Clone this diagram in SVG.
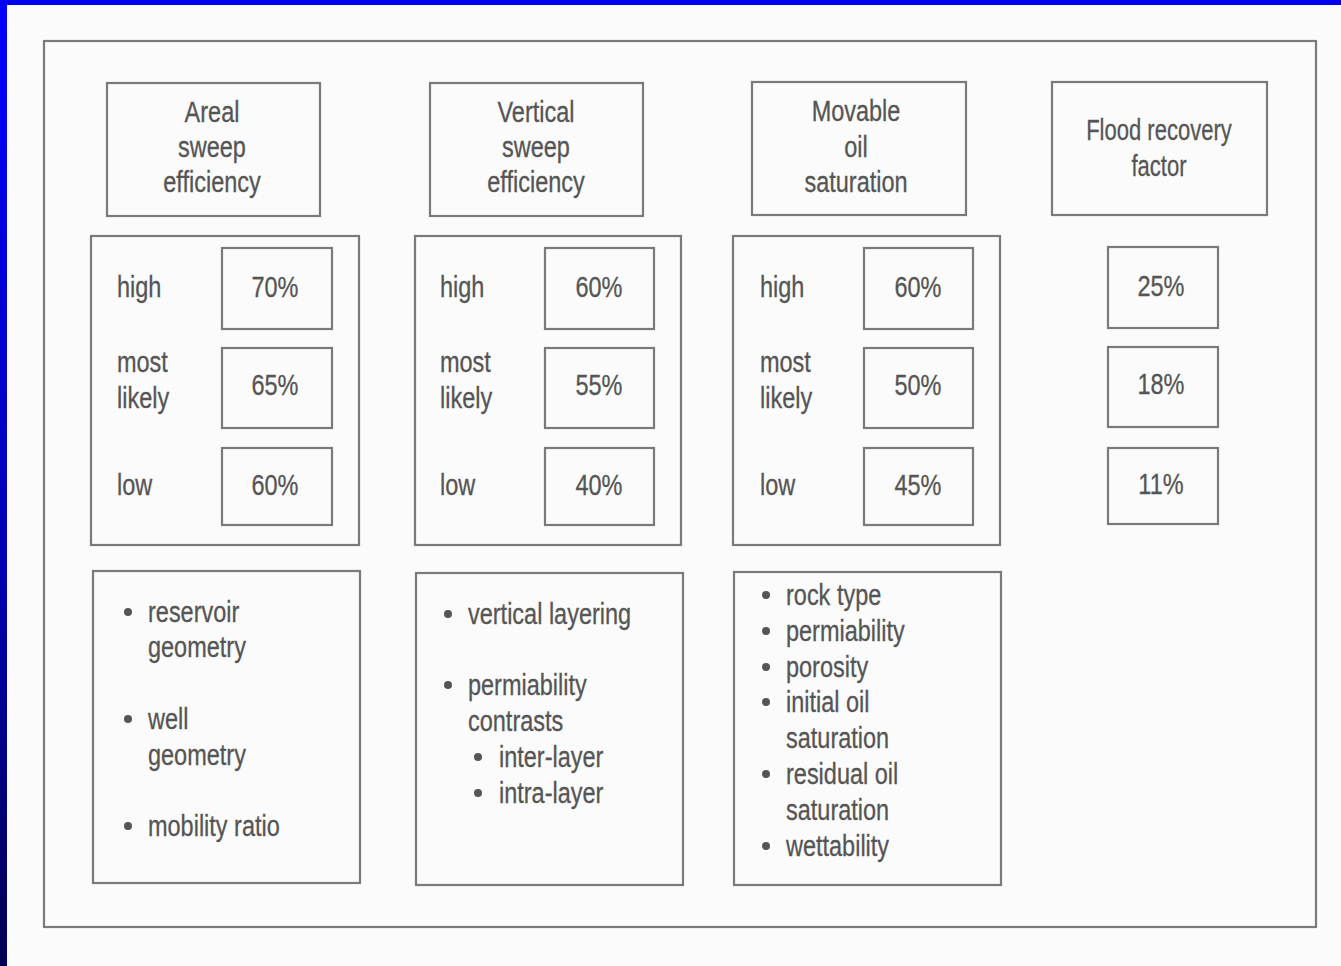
<svg xmlns="http://www.w3.org/2000/svg" width="1341" height="966" viewBox="0 0 1341 966">
<defs>
<linearGradient id="lg" x1="0" y1="0" x2="0" y2="1">
<stop offset="0" stop-color="#0000ff"/>
<stop offset="0.6" stop-color="#0000b0"/>
<stop offset="1" stop-color="#000050"/>
</linearGradient>
<style>
.b{fill:none;stroke:#7a7a7a;stroke-width:2.2}
.t{font-family:"Liberation Sans",Arial,sans-serif;font-size:29px;fill:#555555;stroke:#555555;stroke-width:0.3}
.c{text-anchor:middle}
.d{fill:#555555}
</style>
</defs>
<rect width="1341" height="966" fill="#fbfbfb"/>
<rect x="0" y="0" width="1341" height="5" fill="#0000f0"/>
<rect x="0" y="0" width="7" height="966" fill="url(#lg)"/>
<rect class="b" x="44" y="41" width="1272" height="886"/>

<g id="hdr-areal"><rect class="b" x="107" y="83" width="213" height="133"/>
<text class="t c" transform="translate(212 122) scale(.81 1)"><tspan x="0" y="0">Areal</tspan><tspan x="0" y="35">sweep</tspan><tspan x="0" y="70">efficiency</tspan></text></g>
<g id="hdr-vertical"><rect class="b" x="430" y="83" width="213" height="133"/>
<text class="t c" transform="translate(536 122) scale(.81 1)"><tspan x="0" y="0">Vertical</tspan><tspan x="0" y="35">sweep</tspan><tspan x="0" y="70">efficiency</tspan></text></g>
<g id="hdr-movable"><rect class="b" x="752" y="82" width="214" height="133"/>
<text class="t c" transform="translate(856 121) scale(.81 1)"><tspan x="0" y="0">Movable</tspan><tspan x="0" y="36">oil</tspan><tspan x="0" y="71">saturation</tspan></text></g>
<g id="hdr-flood"><rect class="b" x="1052" y="82" width="215" height="133"/>
<text class="t c" transform="translate(1159 140) scale(.76 1)"><tspan x="0" y="0">Flood recovery</tspan><tspan x="0" y="36">factor</tspan></text></g>

<g id="mid-areal"><rect class="b" x="91" y="236" width="268" height="309"/>
<text class="t" transform="translate(117 297) scale(.81 1)">high</text>
<text class="t" transform="translate(117 372) scale(.81 1)"><tspan x="0" y="0">most</tspan><tspan x="0" y="36">likely</tspan></text>
<text class="t" transform="translate(117 495) scale(.81 1)">low</text>
<rect class="b" x="222" y="248" width="110" height="81"/><text class="t c" transform="translate(275 297) scale(.81 1)">70%</text>
<rect class="b" x="222" y="348" width="110" height="80"/><text class="t c" transform="translate(275 395) scale(.81 1)">65%</text>
<rect class="b" x="222" y="448" width="110" height="77"/><text class="t c" transform="translate(275 495) scale(.81 1)">60%</text></g>

<g id="mid-vertical"><rect class="b" x="415" y="236" width="266" height="309"/>
<text class="t" transform="translate(440 297) scale(.81 1)">high</text>
<text class="t" transform="translate(440 372) scale(.81 1)"><tspan x="0" y="0">most</tspan><tspan x="0" y="36">likely</tspan></text>
<text class="t" transform="translate(440 495) scale(.81 1)">low</text>
<rect class="b" x="545" y="248" width="109" height="81"/><text class="t c" transform="translate(599 297) scale(.81 1)">60%</text>
<rect class="b" x="545" y="348" width="109" height="80"/><text class="t c" transform="translate(599 395) scale(.81 1)">55%</text>
<rect class="b" x="545" y="448" width="109" height="77"/><text class="t c" transform="translate(599 495) scale(.81 1)">40%</text></g>

<g id="mid-movable"><rect class="b" x="733" y="236" width="267" height="309"/>
<text class="t" transform="translate(760 297) scale(.81 1)">high</text>
<text class="t" transform="translate(760 372) scale(.81 1)"><tspan x="0" y="0">most</tspan><tspan x="0" y="36">likely</tspan></text>
<text class="t" transform="translate(760 495) scale(.81 1)">low</text>
<rect class="b" x="864" y="248" width="109" height="81"/><text class="t c" transform="translate(918 297) scale(.81 1)">60%</text>
<rect class="b" x="864" y="348" width="109" height="80"/><text class="t c" transform="translate(918 395) scale(.81 1)">50%</text>
<rect class="b" x="864" y="448" width="109" height="77"/><text class="t c" transform="translate(918 495) scale(.81 1)">45%</text></g>

<g id="mid-flood">
<rect class="b" x="1108" y="247" width="110" height="81"/><text class="t c" transform="translate(1161 296) scale(.81 1)">25%</text>
<rect class="b" x="1108" y="347" width="110" height="80"/><text class="t c" transform="translate(1161 394) scale(.81 1)">18%</text>
<rect class="b" x="1108" y="448" width="110" height="76"/><text class="t c" transform="translate(1161 494) scale(.81 1)">11%</text></g>

<g id="bot-areal"><rect class="b" x="93" y="571" width="267" height="312"/>
<circle class="d" cx="128" cy="612" r="4"/><text class="t" transform="translate(148 622) scale(.81 1)"><tspan x="0" y="0">reservoir</tspan><tspan x="0" y="35">geometry</tspan></text>
<circle class="d" cx="128" cy="719" r="4"/><text class="t" transform="translate(148 729) scale(.81 1)"><tspan x="0" y="0">well</tspan><tspan x="0" y="36">geometry</tspan></text>
<circle class="d" cx="128" cy="826" r="4"/><text class="t" transform="translate(148 836) scale(.81 1)">mobility ratio</text></g>

<g id="bot-vertical"><rect class="b" x="416" y="573" width="267" height="312"/>
<circle class="d" cx="448" cy="614" r="4"/><text class="t" transform="translate(468 624) scale(.81 1)">vertical layering</text>
<circle class="d" cx="448" cy="685" r="4"/><text class="t" transform="translate(468 695) scale(.81 1)"><tspan x="0" y="0">permiability</tspan><tspan x="0" y="36">contrasts</tspan></text>
<circle class="d" cx="478" cy="757" r="4"/><text class="t" transform="translate(499 767) scale(.81 1)">inter-layer</text>
<circle class="d" cx="478" cy="793" r="4"/><text class="t" transform="translate(499 803) scale(.81 1)">intra-layer</text></g>

<g id="bot-movable"><rect class="b" x="734" y="572" width="267" height="313"/>
<circle class="d" cx="766" cy="595" r="4"/><text class="t" transform="translate(786 605) scale(.81 1)">rock type</text>
<circle class="d" cx="766" cy="631" r="4"/><text class="t" transform="translate(786 641) scale(.81 1)">permiability</text>
<circle class="d" cx="766" cy="667" r="4"/><text class="t" transform="translate(786 677) scale(.81 1)">porosity</text>
<circle class="d" cx="766" cy="702" r="4"/><text class="t" transform="translate(786 712) scale(.81 1)"><tspan x="0" y="0">initial oil</tspan><tspan x="0" y="36">saturation</tspan></text>
<circle class="d" cx="766" cy="774" r="4"/><text class="t" transform="translate(786 784) scale(.81 1)"><tspan x="0" y="0">residual oil</tspan><tspan x="0" y="36">saturation</tspan></text>
<circle class="d" cx="766" cy="846" r="4"/><text class="t" transform="translate(786 856) scale(.81 1)">wettability</text></g>

<g id="connectors"/>
</svg>
